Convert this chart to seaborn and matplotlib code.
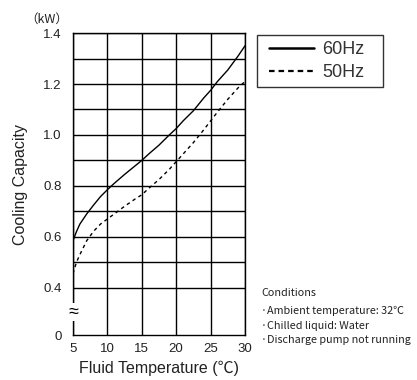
import matplotlib
matplotlib.use('Agg')
import matplotlib.pyplot as plt
from matplotlib.lines import Line2D
from matplotlib.patches import Rectangle
import seaborn as sns
import pandas as pd

# fluid temperature (deg C) and cooling capacity (kW)
temps = [5, 5.5, 6, 7, 8, 9, 10, 11, 12.5, 14, 15, 16, 17.5, 19, 20, 21, 22.5, 24, 25, 26, 27.5, 29, 30]
cap_60hz = [0.585, 0.62, 0.65, 0.69, 0.725, 0.758, 0.785, 0.81, 0.845, 0.878, 0.90, 0.925, 0.96, 1.0,
            1.025, 1.055, 1.095, 1.145, 1.175, 1.21, 1.255, 1.31, 1.35]
cap_50hz = [0.455, 0.50, 0.53, 0.585, 0.622, 0.65, 0.67, 0.69, 0.72, 0.748, 0.765, 0.79, 0.825, 0.865,
            0.895, 0.925, 0.97, 1.02, 1.055, 1.09, 1.14, 1.185, 1.21]
x_ticks = [5, 10, 15, 20, 25, 30]
y_ticks = [0.4, 0.6, 0.8, 1.0, 1.2, 1.4]
conditions = ['Conditions', '·Ambient temperature: 32℃', '·Chilled liquid: Water', '·Discharge pump not running']

# broken axis: the "0" tick sits below 0.4 with a gap
Y_ZERO = 0.214

sns.set_style('white')
plt.rcParams['font.family'] = ['Liberation Sans', 'Noto Sans CJK JP', 'DejaVu Sans']

df = pd.DataFrame({'temp': temps * 2,
                   'cap': cap_60hz + cap_50hz,
                   'freq': ['60Hz'] * len(temps) + ['50Hz'] * len(temps)})

fig = plt.figure(figsize=(4.17, 3.80), dpi=100)
ax = fig.add_axes([0.175, 0.118, 0.4125, 0.795])

sns.lineplot(data=df, x='temp', y='cap', style='freq', style_order=['60Hz', '50Hz'],
             dashes={'60Hz': '', '50Hz': (2.5, 2.5)}, color='black', linewidth=1.0,
             legend=False, ax=ax)

ax.set_xlim(5, 30)
ax.set_ylim(Y_ZERO, 1.4)

# grid: every 5 deg / every 0.1 kW above 0.4
for t in range(5, 31, 5):
    ax.axvline(t, color='black', lw=1.0, zorder=0)
for i in range(4, 15):
    ax.axhline(i / 10, color='black', lw=1.0, zorder=0)

for s in ax.spines.values():
    s.set_color('black')
    s.set_linewidth(1.0)

ax.set_xticks(x_ticks)
ax.set_xticklabels([str(t) for t in x_ticks])
ax.set_yticks([Y_ZERO] + y_ticks)
ax.set_yticklabels(['0'] + [f'{v:.1f}' for v in y_ticks])
ax.tick_params(axis='y', length=0, labelsize=9.5, colors='#222222', pad=8)
ax.tick_params(axis='x', length=0, labelsize=9.5, colors='#222222', pad=6)

# break mark on the left spine
ax.text(5, 0.305, '≈', ha='center', va='center', fontsize=13, color='black',
        bbox=dict(boxstyle='square,pad=0.05', fc='white', ec='none'), clip_on=False)

ax.set_xlabel('Fluid Temperature (℃)', fontsize=11.5, color='#222222', labelpad=4)
ax.set_ylabel('Cooling Capacity', fontsize=11.5, color='#222222', labelpad=11)
ax.text(-0.03, 1.025, '（kW）', transform=ax.transAxes, ha='right', va='bottom',
        fontsize=9, color='#222222', family=['Noto Sans CJK JP'])

# legend: framed box drawn separately so its size matches the original
fig.patches.append(Rectangle((0.616, 0.771), 0.302, 0.137, transform=fig.transFigure,
                             fill=False, edgecolor='#333333', linewidth=1.0))
handles = [Line2D([], [], color='black', lw=1.8),
           Line2D([], [], color='black', lw=1.6, dashes=(2.5, 1.8))]
leg = fig.legend(handles, ['60Hz', '50Hz'], loc='center left', bbox_to_anchor=(0.645, 0.8395),
                 borderaxespad=0, borderpad=0, frameon=False, fontsize=13,
                 handlelength=2.5, handletextpad=0.45, labelspacing=0.35)
for txt in leg.get_texts():
    txt.set_color('#333333')

# conditions note
note_font = ['Noto Sans CJK JP', 'DejaVu Sans']
fig.text(0.627, 0.229, conditions[0], fontsize=7.8, color='#222222', va='center', family=note_font)
for k, line in enumerate(conditions[1:]):
    fig.text(0.627, 0.182 - k * 0.039, line, fontsize=7.8, color='#222222', va='center', family=note_font)

fig.savefig('out.png', dpi=100)
